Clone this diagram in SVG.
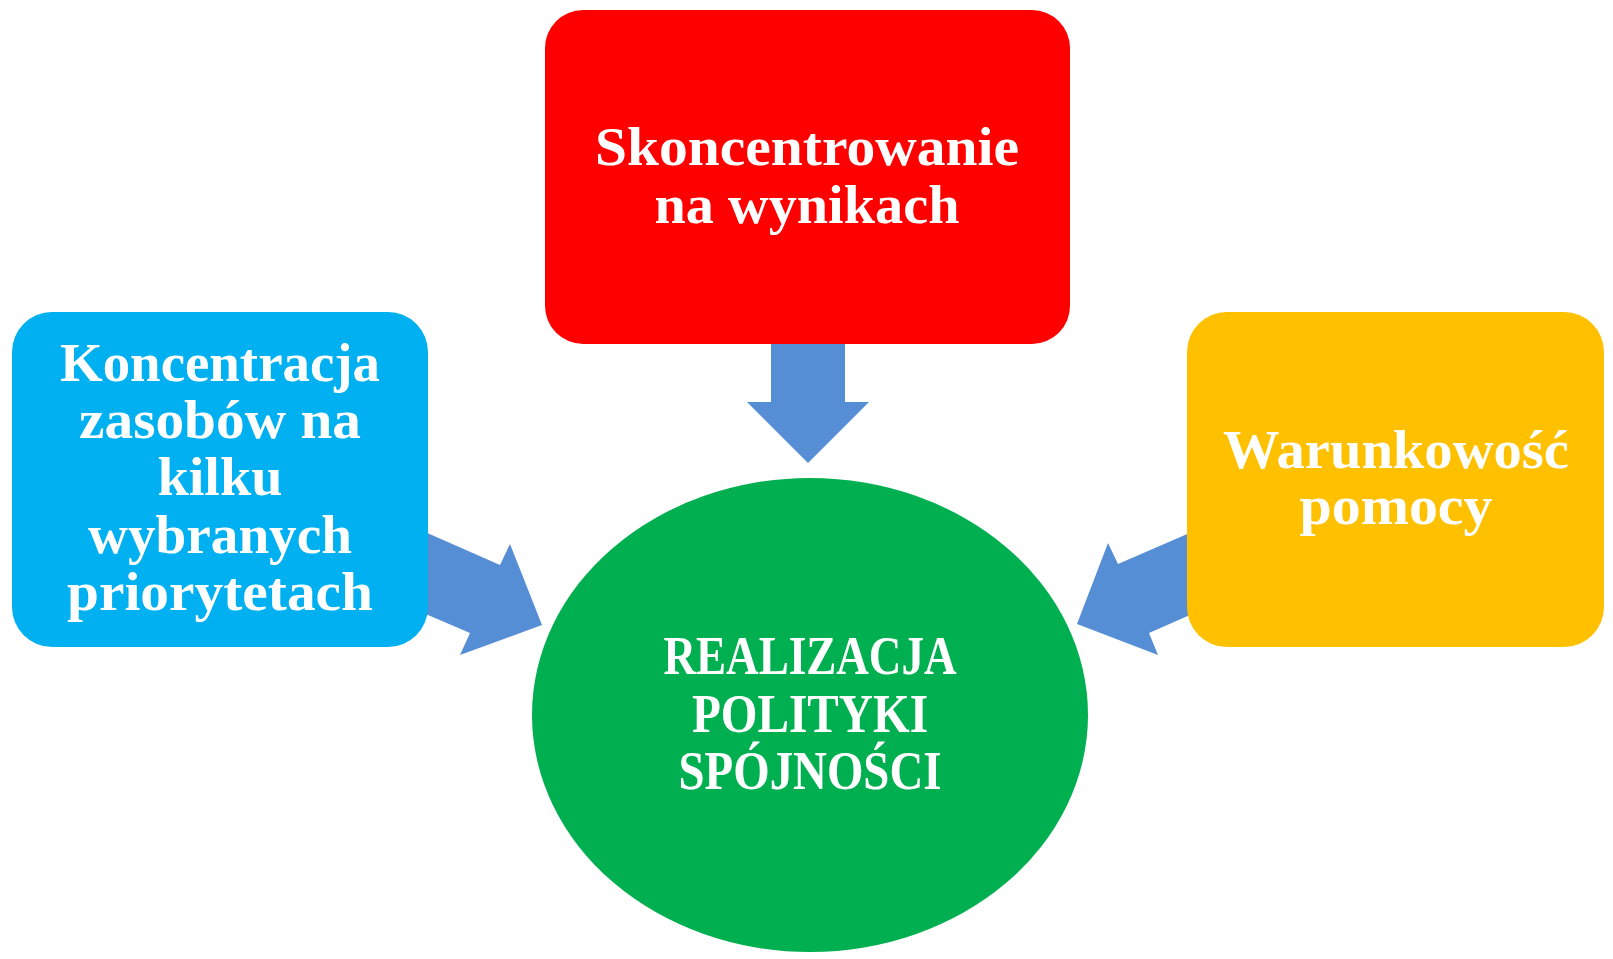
<svg xmlns="http://www.w3.org/2000/svg" width="1613" height="959" viewBox="0 0 1613 959">
  <style>
    .lbl { font-family: "Liberation Serif", "Times New Roman", serif; font-weight: bold; font-size: 54px; fill: #FFFFFF; text-anchor: middle; }
    .arrow { fill: #558ED5; }
  </style>
  <rect width="1613" height="959" fill="#FFFFFF"/>
  <g id="connectors">
    <polygon class="arrow" points="771,330 845,330 845,402 869,402 808,463 747,402 771,402"/>
    <polygon class="arrow" points="400,521 500,565 510,544 542,625 460,655 470,633 400,603"/>
    <polygon class="arrow" points="1215,522 1118,564 1108,543 1077,624 1158,655 1149,633 1215,604"/>
  </g>
  <g id="node-skoncentrowanie">
    <rect x="545" y="10" width="525" height="334" rx="38" ry="38" fill="#FF0000"/>
    <text class="lbl" x="807" y="165" textLength="424" lengthAdjust="spacingAndGlyphs">Skoncentrowanie</text>
    <text class="lbl" x="807" y="223" textLength="305" lengthAdjust="spacingAndGlyphs">na wynikach</text>
  </g>
  <g id="node-koncentracja">
    <rect x="12" y="312" width="416" height="335" rx="40" ry="40" fill="#00B0F0"/>
    <text class="lbl" x="220" y="381" textLength="320" lengthAdjust="spacingAndGlyphs">Koncentracja</text>
    <text class="lbl" x="220" y="438" textLength="282" lengthAdjust="spacingAndGlyphs">zasobów na</text>
    <text class="lbl" x="220" y="495" textLength="125" lengthAdjust="spacingAndGlyphs">kilku</text>
    <text class="lbl" x="220" y="553" textLength="264" lengthAdjust="spacingAndGlyphs">wybranych</text>
    <text class="lbl" x="220" y="610" textLength="306" lengthAdjust="spacingAndGlyphs">priorytetach</text>
  </g>
  <g id="node-warunkowosc">
    <rect x="1187" y="312" width="417" height="335" rx="40" ry="40" fill="#FFC000"/>
    <text class="lbl" x="1396" y="468" textLength="346" lengthAdjust="spacingAndGlyphs">Warunkowość</text>
    <text class="lbl" x="1396" y="524" textLength="193" lengthAdjust="spacingAndGlyphs">pomocy</text>
  </g>
  <g id="node-realizacja">
    <ellipse cx="810" cy="715" rx="278" ry="237" fill="#00B050"/>
    <text class="lbl" x="810" y="674" textLength="293" lengthAdjust="spacingAndGlyphs">REALIZACJA</text>
    <text class="lbl" x="810" y="732" textLength="236" lengthAdjust="spacingAndGlyphs">POLITYKI</text>
    <text class="lbl" x="810" y="789" textLength="263" lengthAdjust="spacingAndGlyphs">SPÓJNOŚCI</text>
  </g>
</svg>
